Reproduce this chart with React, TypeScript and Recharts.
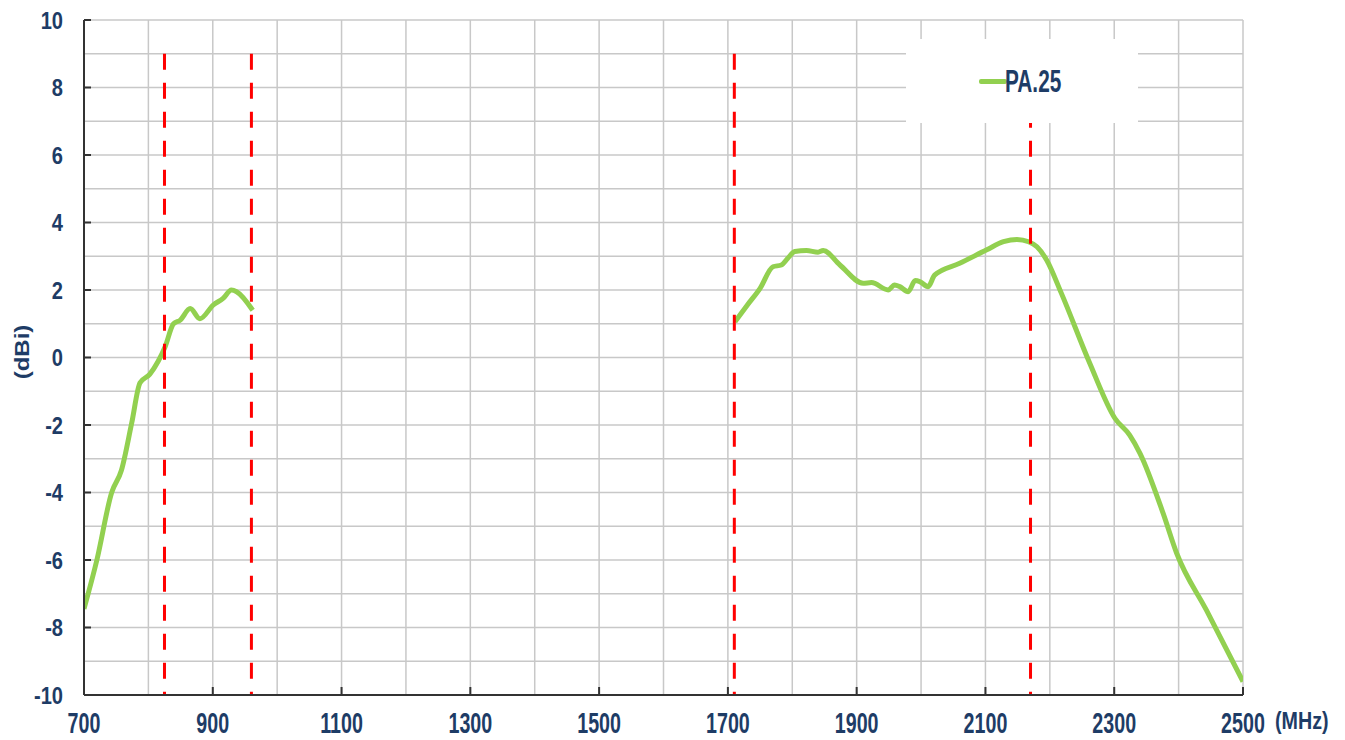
import React from "react";
import { LineChart, Line, XAxis, YAxis, CartesianGrid, ReferenceLine, Legend } from "recharts";

const LOW_FREQ = [700, 720, 743, 758, 774, 787, 802, 815, 826, 839, 849, 865, 880, 901, 916, 929, 937, 962];
const LOW_GAIN = [-7.45, -6.0, -4.0, -3.35, -1.95, -0.75, -0.5, -0.12, 0.32, 1.0, 1.1, 1.45, 1.15, 1.56, 1.75, 2.0, 1.95, 1.4];

const HIGH_FREQ = [1711, 1730, 1750, 1770, 1783, 1793, 1804, 1822, 1840, 1848, 1874, 1910, 1923, 1949, 1959, 1967, 1980, 1991, 1998, 2011, 2021, 2060, 2102, 2128, 2149, 2167, 2180, 2195, 2218, 2262, 2301, 2324, 2340, 2376, 2397, 2443, 2500];
const HIGH_GAIN = [1.06, 1.55, 2.05, 2.69, 2.74, 2.94, 3.14, 3.17, 3.12, 3.17, 2.74, 2.2, 2.22, 2.0, 2.15, 2.1, 1.95, 2.28, 2.25, 2.1, 2.44, 2.79, 3.19, 3.43, 3.5, 3.43, 3.28, 2.89, 1.9, -0.17, -1.8, -2.3, -2.84, -4.62, -5.8, -7.48, -9.6];

const BAND_EDGES = [825, 960, 1710, 2170];

const X_TICKS = [700, 900, 1100, 1300, 1500, 1700, 1900, 2100, 2300, 2500];
const Y_TICKS = [-10, -8, -6, -4, -2, 0, 2, 4, 6, 8, 10];
const GRID_X = [700, 800, 900, 1000, 1100, 1200, 1300, 1400, 1500, 1600, 1700, 1800, 1900, 2000, 2100, 2200, 2300, 2400, 2500];
const GRID_Y = [-10, -9, -8, -7, -6, -5, -4, -3, -2, -1, 0, 1, 2, 3, 4, 5, 6, 7, 8, 9, 10];

const SERIES_NAME = "PA.25";

const lowBand = LOW_FREQ.map((f, i) => ({ f, g: LOW_GAIN[i] }));
const highBand = HIGH_FREQ.map((f, i) => ({ f, g: HIGH_GAIN[i] }));

const FONT = "'Liberation Sans', Arial, sans-serif";
const NAVY = "#1e3c66";
const GREEN = "#92d050";

function XTick({ x, y, payload }: any) {
  return (
    <g transform={`translate(${x},${y + 38}) scale(0.82,1.2)`}>
      <text x={0} y={0} textAnchor="middle" fill={NAVY} fontSize={24} fontWeight={700} fontFamily={FONT}>
        {payload.value}
      </text>
    </g>
  );
}

function YTick({ x, y, payload }: any) {
  return (
    <g transform={`translate(${x},${y}) scale(0.82,1)`}>
      <text x={0} y={0} dy="0.36em" textAnchor="end" fill={NAVY} fontSize={24.5} fontWeight={700} fontFamily={FONT}>
        {payload.value}
      </text>
    </g>
  );
}

function LegendBox() {
  return (
    <div style={{ width: 232, height: 84, background: "#fff", display: "flex", alignItems: "center", justifyContent: "center" }}>
      <span style={{ display: "inline-block", width: 28, height: 5, background: GREEN, borderRadius: 2, marginRight: -2 }} />
      <span
        style={{
          display: "inline-block",
          color: NAVY,
          fontFamily: FONT,
          fontWeight: 700,
          fontSize: 26,
          transform: "scale(0.8,1.2)",
          transformOrigin: "left center",
          width: 60,
        }}
      >
        {SERIES_NAME}
      </span>
    </div>
  );
}

export default function App() {
  return (
    <div style={{ position: "absolute", left: 0, top: 0, width: 1345, height: 740, background: "#fff" }}>
      <style>{"body{margin:0}"}</style>
      <LineChart width={1345} height={740} margin={{ top: 20, right: 102, bottom: 0, left: 0 }}>
        <CartesianGrid stroke="#c8c8c8" strokeWidth={1.5} verticalValues={GRID_X} horizontalValues={GRID_Y} />
        <XAxis
          type="number"
          dataKey="f"
          domain={[700, 2500]}
          ticks={X_TICKS}
          allowDataOverflow
          height={45}
          tickSize={-8}
          tickMargin={8}
          tick={<XTick />}
          axisLine={{ stroke: "#333", strokeWidth: 2 }}
          tickLine={{ stroke: "#333", strokeWidth: 2 }}
        />
        <YAxis
          type="number"
          domain={[-10, 10]}
          ticks={Y_TICKS}
          width={84}
          tickSize={-7}
          tickMargin={28}
          tick={<YTick />}
          axisLine={{ stroke: "#333", strokeWidth: 2 }}
          tickLine={{ stroke: "#333", strokeWidth: 2 }}
        />
        <Line data={lowBand} dataKey="g" type="monotone" stroke={GREEN} strokeWidth={5} dot={false} isAnimationActive={false} legendType="none" />
        <Line data={highBand} dataKey="g" type="monotone" stroke={GREEN} strokeWidth={5} dot={false} isAnimationActive={false} legendType="none" />
        {BAND_EDGES.map((b) => (
          <ReferenceLine
            key={b}
            segment={[{ x: b, y: 9 }, { x: b, y: -10 }]}
            stroke="#ff0000"
            strokeWidth={3}
            strokeDasharray="16 13"
          />
        ))}
        <Legend
          layout="vertical"
          align="center"
          verticalAlign="middle"
          content={() => <LegendBox />}
          wrapperStyle={{ position: "absolute", left: 906, top: 39, width: 232, height: 84 }}
        />
      </LineChart>
      <div
        style={{
          position: "absolute",
          left: 22,
          top: 352,
          transform: "translate(-50%,-50%) rotate(-90deg) scale(1,0.82)",
          color: NAVY,
          fontFamily: FONT,
          fontWeight: 700,
          fontSize: 24,
          whiteSpace: "nowrap",
        }}
      >
        (dBi)
      </div>
      <div
        style={{
          position: "absolute",
          left: 1275,
          top: 707,
          color: NAVY,
          fontFamily: FONT,
          fontWeight: 700,
          fontSize: 24,
          transform: "scale(0.82,1)",
          transformOrigin: "left top",
          whiteSpace: "nowrap",
        }}
      >
        (MHz)
      </div>
    </div>
  );
}
